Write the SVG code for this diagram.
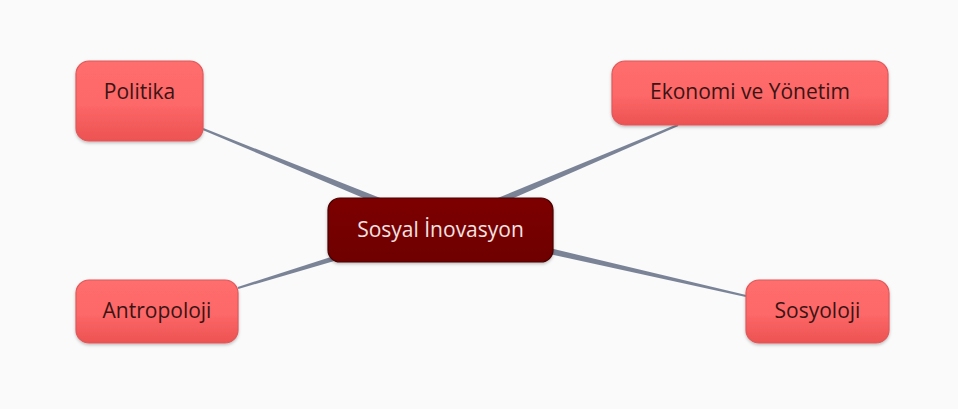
<svg xmlns="http://www.w3.org/2000/svg" width="958" height="409" viewBox="0 0 958 409">
<defs>
<linearGradient id="leafGrad" x1="0" y1="0" x2="0" y2="1">
<stop offset="0" stop-color="#ff6e6e"/>
<stop offset="0.55" stop-color="#fd6767"/>
<stop offset="1" stop-color="#ec5252"/>
</linearGradient>
<linearGradient id="rootGrad" x1="0" y1="0" x2="0" y2="1">
<stop offset="0" stop-color="#7d0000"/>
<stop offset="1" stop-color="#6e0000"/>
</linearGradient>
<filter id="shadow" x="-10%" y="-10%" width="120%" height="130%">
<feDropShadow dx="0" dy="1.5" stdDeviation="1.5" flood-color="#000" flood-opacity="0.25"/>
</filter>
</defs>
<style>
.leaf { fill: url(#leafGrad); stroke: #e0585a; stroke-width: 1.2; filter: url(#shadow); }
.root { fill: url(#rootGrad); stroke: #4a0000; stroke-width: 1.2; filter: url(#shadow); }
.lt { font-family: "Open Sans", Roboto, "Liberation Sans", sans-serif; font-size: 21px; fill: #3b1414; text-anchor: middle; }
.rt { font-family: "Open Sans", Roboto, "Liberation Sans", sans-serif; font-size: 21px; fill: #f4e2e2; text-anchor: middle; }
.conn { fill: #7b8497; }
</style>
<rect width="958" height="409" fill="#fafafa"/>
<g id="connectors">
<polygon class="conn" points="202.6,129.9 203.4,128.1 441.5,222.3 438.5,229.7"/>
<polygon class="conn" points="678.4,125.9 677.6,124.1 438.4,222.3 441.6,229.7"/>
<polygon class="conn" points="238.3,289 237.7,287 438.8,222.2 441.2,229.8"/>
<polygon class="conn" points="746.2,295 745.8,297 439.1,229.9 440.9,222.1"/>
</g>
<g id="node-politika">
<rect class="leaf" x="76" y="61" width="127" height="80" rx="13"/>
<text class="lt" x="139.5" y="99">Politika</text>
</g>
<g id="node-ekonomi">
<rect class="leaf" x="612" y="61" width="276" height="64" rx="13"/>
<text class="lt" x="750" y="99">Ekonomi ve Yönetim</text>
</g>
<g id="node-antropoloji">
<rect class="leaf" x="76" y="280" width="162" height="63" rx="13"/>
<text class="lt" x="157" y="318">Antropoloji</text>
</g>
<g id="node-sosyoloji">
<rect class="leaf" x="746" y="280" width="143" height="63" rx="13"/>
<text class="lt" x="817.5" y="318">Sosyoloji</text>
</g>
<g id="node-root">
<rect class="root" x="328" y="198" width="225" height="64" rx="12"/>
<text class="rt" x="440.5" y="237">Sosyal İnovasyon</text>
</g>
</svg>
